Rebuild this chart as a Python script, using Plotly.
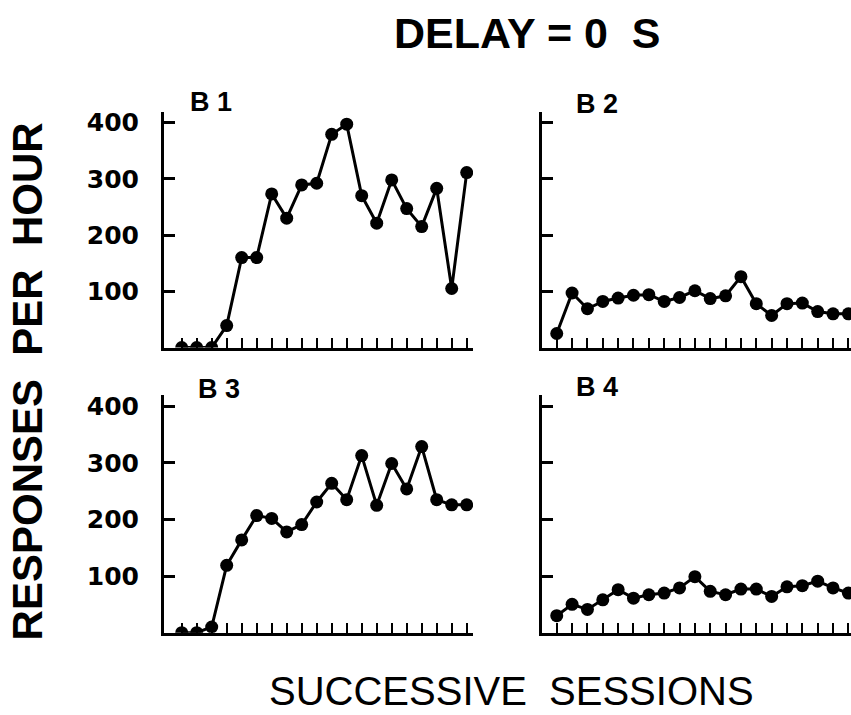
import plotly.graph_objects as go

sessions = list(range(1, 21))
b1 = [0, 0, 0, 39, 160, 160, 273, 230, 289, 292, 379, 397, 270, 221, 298, 247, 215, 283, 105, 311]
b2 = [25, 97, 69, 82, 88, 93, 94, 82, 89, 101, 87, 92, 126, 78, 57, 78, 79, 64, 60, 60]
b3 = [0, 0, 10, 119, 164, 207, 202, 178, 191, 231, 264, 235, 313, 225, 299, 254, 329, 235, 226, 226]
b4 = [30, 50, 41, 58, 76, 61, 67, 70, 79, 99, 73, 67, 77, 77, 64, 81, 83, 91, 79, 70]
panel_labels = ["B 1", "B 2", "B 3", "B 4"]
y_ticks = [100, 200, 300, 400]
title_text = "DELAY = 0  S"
y_title = "RESPONSES  PER  HOUR"
x_title = "SUCCESSIVE  SESSIONS"

W, H = 851, 715
def px_x(p):
    return p / W
def px_y(p):
    return 1 - p / H

fig = go.Figure()
series = [b1, b2, b3, b4]
for i, vals in enumerate(series):
    n = "" if i == 0 else str(i + 1)
    fig.add_trace(go.Scatter(
        x=sessions, y=vals, mode="lines+markers",
        line=dict(color="black", width=3),
        marker=dict(color="black", size=13),
        xaxis="x" + n, yaxis="y" + n, showlegend=False, hoverinfo="skip"))

left_dom = [px_x(164), px_x(473)]
right_dom = [px_x(541.7), 1.0]
top_dom = [px_y(346), px_y(109)]
bot_dom = [px_y(632.3), px_y(394)]

doms = [(left_dom, top_dom), (right_dom, top_dom), (left_dom, bot_dom), (right_dom, bot_dom)]
xranges = [[-0.18, 20.42], [0.02, 20.17], [-0.18, 20.42], [0.02, 20.17]]

layout = dict(
    width=W, height=H, margin=dict(l=0, r=0, t=0, b=0),
    paper_bgcolor="white", plot_bgcolor="white",
    font=dict(family="Liberation Sans", color="black"),
)
for i, ((xd, yd), xr) in enumerate(zip(doms, xranges)):
    n = "" if i == 0 else str(i + 1)
    layout["xaxis" + n] = dict(
        domain=xd, range=xr, anchor="y" + n,
        showline=True, linewidth=3, linecolor="black",
        showgrid=False, zeroline=False,
        ticks="inside", ticklen=10, tickwidth=2, tickcolor="black",
        tickvals=sessions, showticklabels=False, fixedrange=True)
    layout["yaxis" + n] = dict(
        domain=yd, range=[0, 419.5], anchor="x" + n,
        showline=True, linewidth=3, linecolor="black",
        showgrid=False, zeroline=False,
        ticks="inside", ticklen=11, tickwidth=2.5, tickcolor="black",
        tickvals=y_ticks, ticktext=[str(v) for v in y_ticks],
        showticklabels=(i % 2 == 0),
        tickfont=dict(family="DejaVu Sans", size=25, weight="bold", color="black"),
        ticklabelstandoff=17, fixedrange=True)

fig.update_layout(**layout)

ann = []
label_pos = [(211, 99), (597, 101), (219, 388), (597, 386)]
for lbl, (cx, cy) in zip(panel_labels, label_pos):
    ann.append(dict(text=lbl, x=px_x(cx), y=px_y(cy), xref="paper", yref="paper",
                    xanchor="center", yanchor="middle", showarrow=False,
                    font=dict(family="Liberation Sans", size=27, weight="bold", color="black")))
ann.append(dict(text=title_text, x=px_x(527), y=px_y(30), xref="paper", yref="paper",
                xanchor="center", yanchor="middle", showarrow=False,
                font=dict(family="Liberation Sans", size=43, weight="bold", color="black")))
ann.append(dict(text=y_title, x=px_x(27), y=px_y(380), xref="paper", yref="paper",
                xanchor="center", yanchor="middle", showarrow=False, textangle=-90,
                font=dict(family="Liberation Sans", size=42, weight="bold", color="black")))
ann.append(dict(text=x_title, x=px_x(511), y=px_y(691), xref="paper", yref="paper",
                xanchor="center", yanchor="middle", showarrow=False,
                font=dict(family="Liberation Sans", size=40, color="black")))
fig.update_layout(annotations=ann)

fig.write_html("out.html", config={"displayModeBar": False},
               post_script="document.body.style.margin='0';document.body.style.overflow='hidden';")
